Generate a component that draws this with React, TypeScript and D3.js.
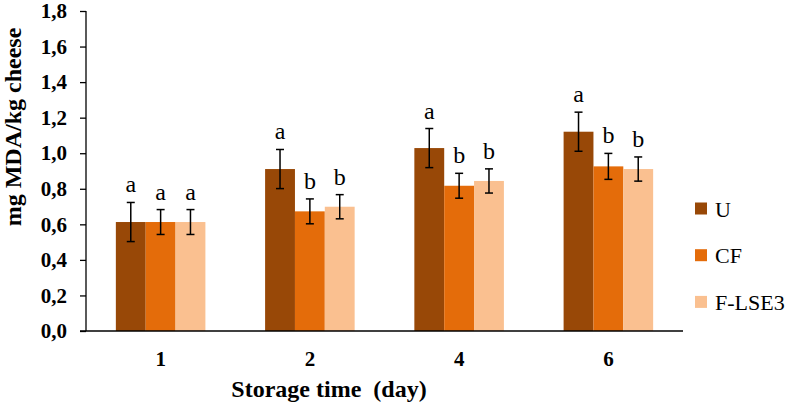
import { useEffect, useRef } from 'react';
import * as d3 from 'd3';

const days = ['1', '2', '4', '6'];
const seriesNames = ['U', 'CF', 'F-LSE3'];
const colors = ['#984807', '#E46C0A', '#FAC090'];

// mean values per day, one array per series
const uValues = [0.613, 0.911, 1.029, 1.121];
const cfValues = [0.613, 0.673, 0.817, 0.926];
const flseValues = [0.613, 0.699, 0.844, 0.911];

// standard deviations
const uErrors = [0.11, 0.11, 0.11, 0.11];
const cfErrors = [0.07, 0.07, 0.07, 0.073];
const flseErrors = [0.07, 0.068, 0.068, 0.068];

// significance letters
const uLetters = ['a', 'a', 'a', 'a'];
const cfLetters = ['a', 'b', 'b', 'b'];
const flseLetters = ['a', 'b', 'b', 'b'];

const yTicks = [0, 0.2, 0.4, 0.6, 0.8, 1.0, 1.2, 1.4, 1.6, 1.8];

const W = 787;
const H = 405;

export default function App() {
  const svgRef = useRef<SVGSVGElement>(null);

  useEffect(() => {
    if (!svgRef.current) return;
    const svg = d3.select(svgRef.current);
    svg.selectAll('*').remove();

    const left = 86;
    const right = 683;
    const top = 11;
    const bottom = 331;
    const serif = '"Liberation Serif", "Times New Roman", serif';

    const values = [uValues, cfValues, flseValues];
    const errors = [uErrors, cfErrors, flseErrors];
    const letters = [uLetters, cfLetters, flseLetters];

    const x = d3.scaleBand<string>()
      .domain(days)
      .range([left, right])
      .paddingInner(0.4)
      .paddingOuter(0.2);
    const xs = d3.scaleBand<number>().domain([0, 1, 2]).range([0, x.bandwidth()]);
    const y = d3.scaleLinear().domain([0, 1.8]).range([bottom, top]);

    // y axis
    const yAxis = d3.axisLeft(y)
      .tickValues(yTicks)
      .tickSize(6)
      .tickPadding(13)
      .tickFormat(d => d3.format('.1f')(d as number).replace('.', ','));
    const ya = svg.append('g').attr('transform', `translate(${left},0)`).call(yAxis);
    ya.select('.domain').attr('stroke', '#000').attr('stroke-width', 1.3).attr('d', `M0,${top}V${bottom}`);
    ya.selectAll('.tick line').attr('stroke', '#000').attr('stroke-width', 1.3);
    ya.selectAll('.tick text')
      .attr('font-family', serif)
      .attr('font-weight', 'bold')
      .attr('font-size', 21)
      .attr('fill', '#000');

    // bars
    seriesNames.forEach((_, s) => {
      const g = svg.append('g');
      days.forEach((day, i) => {
        const v = values[s][i];
        const e = errors[s][i];
        const bx = (x(day) ?? 0) + (xs(s) ?? 0);
        const cx = bx + xs.bandwidth() / 2;
        g.append('rect')
          .attr('x', bx)
          .attr('y', y(v))
          .attr('width', xs.bandwidth())
          .attr('height', y(0) - y(v))
          .attr('fill', colors[s]);
        const eb = g.append('g').attr('stroke', '#000').attr('stroke-width', 1.5);
        eb.append('line').attr('x1', cx).attr('x2', cx).attr('y1', y(v - e)).attr('y2', y(v + e));
        eb.append('line').attr('x1', cx - 4).attr('x2', cx + 4).attr('y1', y(v - e)).attr('y2', y(v - e));
        eb.append('line').attr('x1', cx - 4).attr('x2', cx + 4).attr('y1', y(v + e)).attr('y2', y(v + e));
        g.append('text')
          .attr('x', cx)
          .attr('y', y(v + e) - 10)
          .attr('text-anchor', 'middle')
          .attr('font-family', serif)
          .attr('font-size', 24)
          .attr('fill', '#000')
          .text(letters[s][i]);
      });
    });

    // x axis
    svg.append('line')
      .attr('x1', left - 6).attr('x2', right)
      .attr('y1', bottom).attr('y2', bottom)
      .attr('stroke', '#000').attr('stroke-width', 1.3);
    svg.append('g').selectAll('text')
      .data(days)
      .join('text')
      .attr('x', d => (x(d) ?? 0) + x.bandwidth() / 2)
      .attr('y', 366)
      .attr('text-anchor', 'middle')
      .attr('font-family', serif)
      .attr('font-weight', 'bold')
      .attr('font-size', 21)
      .text(d => d);

    // axis titles
    svg.append('text')
      .attr('x', 329)
      .attr('y', 397)
      .attr('text-anchor', 'middle')
      .attr('font-family', serif)
      .attr('font-weight', 'bold')
      .attr('font-size', 24)
      .style('white-space', 'pre')
      .text('Storage time  (day)');
    svg.append('text')
      .attr('transform', `translate(21,127) rotate(-90)`)
      .attr('text-anchor', 'middle')
      .attr('font-family', serif)
      .attr('font-weight', 'bold')
      .attr('font-size', 24)
      .text('mg MDA/kg cheese');

    // legend
    const legend = svg.append('g');
    seriesNames.forEach((name, s) => {
      const ly = 208.5 + s * 46.7;
      legend.append('rect')
        .attr('x', 695).attr('y', ly - 6)
        .attr('width', 12).attr('height', 12)
        .attr('fill', colors[s]);
      legend.append('text')
        .attr('x', 715).attr('y', ly + 8)
        .attr('font-family', serif)
        .attr('font-size', 22)
        .text(name);
    });
  }, []);

  return (
    <svg
      ref={svgRef}
      width={W}
      height={H}
      style={{ position: 'absolute', left: 0, top: 0, background: '#fff' }}
    />
  );
}
